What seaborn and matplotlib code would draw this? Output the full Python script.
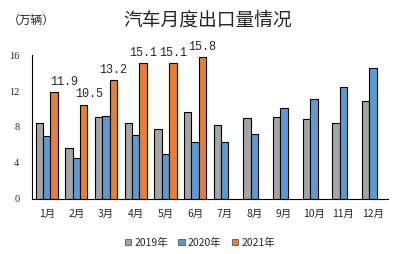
import numpy as np
import pandas as pd
import seaborn as sns
import matplotlib
matplotlib.use("Agg")
import matplotlib.pyplot as plt

months = ["1月", "2月", "3月", "4月", "5月", "6月", "7月", "8月", "9月", "10月", "11月", "12月"]
years = ["2019年", "2020年", "2021年"]
v2019 = [8.4, 5.7, 9.1, 8.4, 7.8, 9.7, 8.2, 9.0, 9.1, 8.9, 8.5, 10.9]
v2020 = [7.0, 4.5, 9.2, 7.1, 5.0, 6.3, 6.3, 7.2, 10.1, 11.1, 12.4, 14.6]
v2021 = [11.9, 10.5, 13.2, 15.1, 15.1, 15.8, np.nan, np.nan, np.nan, np.nan, np.nan, np.nan]
yticks = [0, 4, 8, 12, 16]

rows = []
for y, vals in zip(years, [v2019, v2020, v2021]):
    for m, v in zip(months, vals):
        rows.append({"month": m, "year": y, "value": v})
df = pd.DataFrame(rows)

sns.set_style("white")
plt.rcParams['font.family'] = ['Noto Sans CJK SC', 'DejaVu Sans']

fig = plt.figure(figsize=(4.08, 2.54), dpi=100)
ax = fig.add_axes([0.078, 0.217, 0.873, 0.566])

palette = {"2019年": "#A5A5A5", "2020年": "#5B9BD5", "2021年": "#ED7D31"}
sns.barplot(data=df, x="month", y="value", hue="year", order=months, hue_order=years,
            palette=palette, edgecolor="black", linewidth=0.8, width=0.75,
            saturation=1, ax=ax, legend=True)

ax.set_ylim(0, 16)
ax.set_yticks(yticks)
ax.set_yticklabels([str(t) for t in yticks], family="Liberation Serif", fontsize=7.5)
ax.set_xlabel("")
ax.set_ylabel("")
ax.tick_params(axis="x", length=0, labelsize=7.5, pad=7)
ax.tick_params(axis="y", length=0, pad=9)
for s in ["top", "right"]:
    ax.spines[s].set_visible(False)
ax.spines["left"].set_color("black")
ax.spines["bottom"].set_color("black")
ax.spines["left"].set_linewidth(0.8)
ax.spines["bottom"].set_linewidth(0.8)

# data labels for 2021
cont = ax.containers[2]
dx = [7, 4, 0, 0, 0, 0]
for i, (patch, v) in enumerate(zip(cont.patches, v2021)):
    if np.isnan(v):
        continue
    ax.annotate(f"{v:.1f}", (patch.get_x() + patch.get_width() / 2, v),
                xytext=(dx[i] if i < len(dx) else 0, 3), textcoords="offset points",
                ha="center", va="bottom", fontsize=8.5, family="Liberation Mono")

handles, labels = ax.get_legend_handles_labels()
ax.get_legend().remove()
for h in handles:
    h.set_edgecolor("#555555")
    h.set_linewidth(0.6)
leg = fig.legend(handles, labels, loc="center", bbox_to_anchor=(0.49, 0.045), ncol=3,
                 frameon=False, fontsize=7.5, handlelength=0.6, handleheight=0.6,
                 handletextpad=0.3, columnspacing=1.0)

fig.text(0.51, 0.92, "汽车月度出口量情况", ha="center", va="center", fontsize=13.5)
fig.text(0.02, 0.92, "（万辆）", ha="left", va="center", fontsize=8.5,
         family=["Noto Sans CJK JP", "DejaVu Sans"])

fig.savefig("out.png", dpi=100)
